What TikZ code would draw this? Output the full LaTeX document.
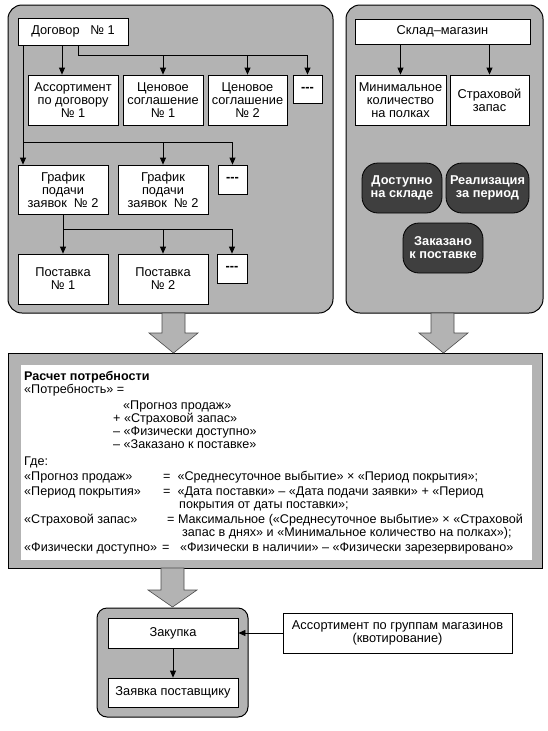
\documentclass[tikz,border=0pt]{standalone}
\usepackage{fontspec}
\setmainfont{Liberation Sans}
\usetikzlibrary{arrows.meta}

\definecolor{panelgray}{HTML}{B3B3B3}
\definecolor{darkbox}{HTML}{3F3F3F}

\tikzset{
  panel/.style={draw=black, line width=1pt, fill=panelgray, rounded corners=14pt},
  box/.style={draw=black, line width=0.8pt, fill=white, align=center, inner sep=1pt,
    font=\fontsize{12.8}{13}\selectfont},
  darknode/.style={draw=black, line width=0.8pt, fill=darkbox, text=white, align=center,
    rounded corners=16pt, minimum width=80pt, minimum height=50pt,
    font=\bfseries\fontsize{12.8}{13}\selectfont},
  arr/.style={-{Triangle[length=7pt,width=6pt]}, line width=0.8pt},
  bigarrow/.style={draw=black!70, line width=0.6pt, fill=panelgray},
  calctext/.style={anchor=base west, inner sep=0pt, font=\fontsize{12.6}{13}\selectfont},
}

\begin{document}
\begin{tikzpicture}[x=1pt, y=-1pt]
    \useasboundingbox (0,0) rectangle (548,731);

    % panels
    \draw[panel] (8,5) rectangle (333,313);
    \draw[panel] (346,5) rectangle (543,313);
    \draw[draw=black, line width=1pt, fill=panelgray] (8,353) rectangle (542,568);
    \fill[white] (21,365) rectangle (532,560);
    \draw[panel, rounded corners=10pt] (97,608) rectangle (248,717);

    % big arrows
    \draw[bigarrow] (162,313) -- (162,333) -- (149,333) -- (173.5,353) -- (198,333) -- (185,333) -- (185,313) -- cycle;
    \draw[bigarrow] (431,313) -- (431,333) -- (419,333) -- (443.5,353) -- (468,333) -- (454,333) -- (454,313) -- cycle;
    \draw[bigarrow] (161,568) -- (161,590) -- (148,590) -- (172.5,607) -- (197,590) -- (184,590) -- (184,568) -- cycle;

    % contract side
    \node[box, minimum width=110pt, minimum height=27pt] (dog) at (73,31.5) {Договор\ \ \ № 1};
    \node[box, minimum width=90pt, minimum height=50pt] (assort) at (73,100) {Ассортимент\\по договору\\№ 1};
    \node[box, minimum width=80pt, minimum height=50pt] (cen1) at (163,100) {Ценовое\\соглашение\\№ 1};
    \node[box, minimum width=79pt, minimum height=50pt] (cen2) at (247.5,100) {Ценовое\\соглашение\\№ 2};
    \node[box, minimum width=29pt, minimum height=28pt] (dots1) at (307.5,89) {\textbf{-{}-{}-}};
    \node[box, minimum width=90pt, minimum height=49pt] (graf1) at (63,189.5) {График\\подачи\\заявок\ \ № 2};
    \node[box, minimum width=90pt, minimum height=49pt] (graf2) at (163,189.5) {График\\подачи\\заявок\ \ № 2};
    \node[box, minimum width=29pt, minimum height=29pt] (dots2) at (232.5,179.5) {\textbf{-{}-{}-}};
    \node[box, minimum width=90pt, minimum height=50pt] (post1) at (63,279) {Поставка\\№ 1};
    \node[box, minimum width=90pt, minimum height=50pt] (post2) at (163,279) {Поставка\\№ 2};
    \node[box, minimum width=30pt, minimum height=29pt] (dots3) at (232,268.5) {\textbf{-{}-{}-}};

    \coordinate (j1) at (78,55);
    \coordinate (j2) at (23,142);
    \coordinate (j3) at (63,229);
    \draw[arr] (dog.south -| assort.north) ++(-11,0) -- ([xshift=-11pt]assort.north);
    \draw[line width=0.8pt] (dog.south -| j1) -- (j1) -- (j1 -| dots1.north);
    \draw[arr] (j1 -| cen1.north) -- (cen1.north);
    \draw[arr] (j1 -| cen2.north) -- (cen2.north);
    \draw[arr] (j1 -| dots1.north) -- (dots1.north);
    \draw[line width=0.8pt] (dog.south -| j2) -- (j2) -- (j2 -| dots2.north);
    \draw[arr] (j2) -- (j2 |- graf1.north);
    \draw[arr] (j2 -| graf2.north) -- (graf2.north);
    \draw[arr] (j2 -| dots2.north) -- (dots2.north);
    \draw[line width=0.8pt] (graf1.south) -- (j3) -- (j3 -| dots3.north);
    \draw[arr] (j3) -- (post1.north);
    \draw[arr] (j3 -| post2.north) -- (post2.north);
    \draw[arr] (j3 -| dots3.north) -- (dots3.north);

    % store side
    \node[box, minimum width=175pt, minimum height=25pt] (sklad) at (442.5,31.5) {Склад–магазин};
    \node[box, minimum width=91pt, minimum height=50pt] (minq) at (400.5,100) {Минимальное\\количество\\на полках};
    \node[box, minimum width=79pt, minimum height=50pt] (strah) at (489.5,100) {Страховой\\запас};
    \draw[arr] (sklad.south -| minq.north) -- (minq.north);
    \draw[arr] (sklad.south -| strah.north) -- (strah.north);
    \node[darknode] (dost) at (402,188) {Доступно\\на складе};
    \node[darknode, minimum width=83pt] (real) at (487.5,188) {Реализация\\за период};
    \node[darknode] (zakaz) at (443,248) {Заказано\\к поставке};

    % calculation
    \node[calctext, font=\bfseries\fontsize{12.6}{13}\selectfont] (ctitle) at (24,380) {Расчет потребности};
    \node[calctext] (cneed) at (24,393) {«Потребность» =};
    \node[calctext] (cplus0) at (123,409) {«Прогноз продаж»};
    \node[calctext] (cplus1) at (113,422) {+ «Страховой запас»};
    \node[calctext] (cminus1) at (113,435) {– «Физически доступно»};
    \node[calctext] (cminus2) at (113,448) {– «Заказано к поставке»};
    \node[calctext] (cwhere) at (24,465) {Где:};
    \node[calctext] (cfore) at (24,480) {«Прогноз продаж»};
    \node[calctext] (cforeq) at (163,480) {=\ \ «Среднесуточное выбытие» × «Период покрытия»;};
    \node[calctext] (cper) at (24,495) {«Период покрытия»};
    \node[calctext] (cpereq) at (163,495) {=\ \ «Дата поставки» – «Дата подачи заявки» + «Период};
    \node[calctext] (cpereq2) at (179,508) {покрытия от даты поставки»;};
    \node[calctext] (csafe) at (24,523) {«Страховой запас»};
    \node[calctext] (csafeeq) at (167,523) {= Максимальное («Среднесуточное выбытие» × «Страховой};
    \node[calctext] (csafeeq2) at (182,536) {запас в днях» и «Минимальное количество на полках»);};
    \node[calctext] (cphys) at (24,551) {«Физически доступно»};
    \node[calctext] (cphyseq) at (162,551) {=\ \ \ «Физически в наличии» – «Физически зарезервировано»};

    % purchase
    \node[box, minimum width=130pt, minimum height=30pt] (zak) at (173,633) {Закупка};
    \node[box, minimum width=130pt, minimum height=29pt] (zay) at (173,692.5) {Заявка поставщику};
    \node[box, minimum width=229pt, minimum height=40pt] (assg) at (397.5,633) {Ассортимент по группам магазинов\\(квотирование)};
    \draw[arr] (zak.south) -- (zay.north);
    \draw[arr] (assg.west) -- (zak.east);

\end{tikzpicture}
\end{document}
